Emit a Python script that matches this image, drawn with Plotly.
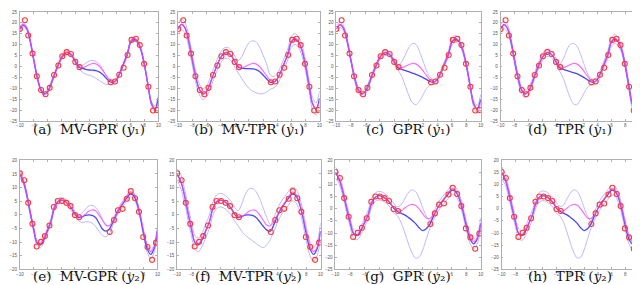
import plotly.graph_objects as go

# ---------------- data ----------------
X = [-10, -9.5, -9, -8.5, -8, -7.5, -7, -6.5, -6, -5.5, -5, -4.5, -4, -3.5, -3, -2.5, -2, -1.5, -1, -0.5,
     0, 0.5, 1, 1.5, 2, 2.5, 3, 3.5, 4, 4.5, 5, 5.5, 6, 6.5, 7, 7.5, 8, 8.5, 9, 9.5, 10]

# true function (magenta)
T1 = [17, 19.3, 17.5, 11.5, 3, -5, -10.5, -12.6, -11.5, -8, -3.5, 0.5, 4, 6.2, 6.5, 5, 2.5, 0.2, -0.5, 0,
      0.8, 1.4, 1.2, 0, -2, -4.2, -6.2, -7.2, -5.8, -2.5, 1.5, 5.5, 11.5, 13, 11.5, 7.5, 0.5, -8.5, -17, -19.5, -16]
T2 = [15, 12.5, 7.5, 1, -5, -10, -10.5, -8.5, -5.5, -2.5, 2.5, 4.8, 5.4, 5, 4, 2.6, 0.5, -0.6, -0.8, 0.2,
      1.3, 1.8, 1.5, 0, -2, -3.8, -4, -2.5, 0, 2.5, 4.5, 6.5, 8.3, 7.8, 5, 0, -6, -11, -13.5, -12, -6]

# observations
P1x = [-10, -9.28, -8.8, -8.18, -7.56, -6.94, -6.3, -5.7, -5.07, -4.45, -3.88, -3.25, -2.63, -2.0, -1.39,
       3.1, 3.73, 4.35, 4.98, 5.55, 6.12, 6.75, 7.32, 7.94, 8.56, 9.23, 9.8]
P1y = [17.2, 21.2, 14.2, 5.9, -4.5, -10.8, -12.7, -9.8, -3.9, 0.45, 4.7, 6.6, 5.7, 2.1, -0.3,
       -7.2, -6.9, -3.8, -0.6, 5.3, 12.2, 12.7, 9.8, 1.2, -9.3, -20.2, -19.9]
P2x = [-10, -9.38, -8.8, -8.18, -7.56, -6.94, -6.36, -5.7, -5.07, -4.5, -3.88, -3.25, -2.63, -2.0, -1.39,
       3.06, 3.68, 4.26, 4.93, 5.55, 6.12, 6.75, 7.32, 7.94, 8.56, 9.23, 9.8]
P2y = [15.2, 12.7, 4.4, -3.3, -11.6, -9.9, -7.8, -3.9, 2.9, 5.1, 5.1, 4.4, 3.2, -0.1, -0.9,
       -6.3, -1.9, 1.7, 2.2, 5.9, 8.7, 6.1, 1.1, -8.1, -11.8, -16.5, -10.2]

# (a) MV-GPR y1
M1a = [17.3, 19, 17.3, 11.5, 3, -5, -10.5, -12.6, -11.5, -8, -3.5, 0.5, 4, 6, 6.3, 5, 2.3, -0.2, -0.9, -1.3,
       -1.6, -1.7, -1.9, -2.6, -3.8, -5.5, -7.0, -7.2, -5.8, -2.5, 1.5, 5.5, 11.3, 12.6, 11.3, 7.5, 0.5, -8.5, -17, -19.5, -14.5]
U1a = [18.5, 19.8, 18.1, 12.3, 3.8, -4.2, -9.7, -11.8, -10.7, -7.2, -2.7, 1.3, 4.8, 6.8, 7.1, 5.8, 3.1, 0.5, 0.5, 1.5,
       2.5, 2.8, 2.3, 1, -1.5, -4.5, -6.3, -6.5, -5, -1.7, 2.3, 6.3, 12.1, 13.4, 12.1, 8.3, 1.3, -7.7, -16, -18.3, -13]
L1a = [16.1, 18.2, 16.5, 10.7, 2.2, -5.8, -11.3, -13.4, -12.3, -8.8, -4.3, -0.3, 3.2, 5.2, 5.5, 4.2, 1.5, -1, -2.5, -3.5,
       -4, -4.5, -5.5, -6.5, -7.5, -8.3, -8.2, -8, -6.6, -3.3, 0.7, 4.7, 10.5, 11.8, 10.5, 6.7, -0.3, -9.3, -18, -20.7, -16]
# (b) MV-TPR y1
M1b = [17.3, 19.3, 17.5, 11.5, 3, -5, -10.5, -12.6, -11.5, -8, -3.5, 0.5, 4, 6, 6.3, 5, 2.3, -0.3, -0.8, -1,
       -1, -1.1, -1.4, -2.3, -3.9, -5.6, -7.2, -7.2, -5.8, -2.5, 1.5, 5.5, 11.3, 12.6, 11.3, 7.5, 0.5, -8.5, -17, -19.5, -14.5]
U1b = [19.8, 21.8, 20, 14, 5.5, -2.5, -8, -10.1, -9, -5.5, -1, 3, 6.5, 8.5, 8.8, 7.5, 4.8, 2.8, 4.5, 8,
       10.8, 11.8, 11.3, 9, 5.2, 1.3, -3.8, -4.6, -3.2, 0, 4, 8, 13.8, 15.1, 13.8, 10, 3, -6, -14.2, -16.7, -11]
L1b = [14.8, 16.8, 15, 9, 0.5, -7.5, -13, -15.1, -14, -10.5, -6, -2, 1.5, 3.5, 3.8, 2.5, -0.2, -3, -5.5, -8,
       -10, -11.2, -12, -12.5, -12.4, -11.8, -10.5, -9.8, -8.4, -5, -1, 3, 8.8, 10.1, 8.8, 5, -2, -11, -19.8, -22.3, -18]
# (c) GPR y1
M1c = [17.3, 19.2, 17.4, 11.5, 3, -5, -10.5, -12.6, -11.5, -8, -3.5, 0.5, 4, 6, 6.3, 5, 2.2, -0.5, -1.2, -1.8,
       -2.4, -3, -3.6, -4.3, -5.1, -6, -7, -7.2, -5.8, -2.5, 1.5, 5.5, 11.3, 12.6, 11.3, 7.5, 0.5, -8.5, -17, -19.5, -15]
U1c = [18.8, 20.4, 18.6, 12.6, 4.1, -3.9, -9.3, -11.4, -10.3, -6.9, -2.5, 1.5, 5, 7.2, 7.5, 6, 3.2, 0.5, 2, 5,
       8.5, 10.5, 10.2, 7, 2.5, -2, -5, -6, -4.8, -1.5, 2.6, 6.8, 12.8, 14.2, 12.7, 8.7, 1.6, -7.3, -15.6, -17.8, -12.8]
L1c = [15.8, 18, 16.2, 10.4, 1.9, -6.1, -11.7, -13.8, -12.7, -9.1, -4.5, -0.5, 3, 4.8, 5.1, 4, 1.2, -1.5, -4.2, -8.5,
       -13, -16.5, -17.5, -16, -13, -10, -8.5, -8.3, -6.8, -3.5, 0.4, 4.2, 9.8, 11.0, 9.9, 6.3, -0.6, -9.7, -18.4, -21.2, -17.2]
# (d) TPR y1
M1d = [17.3, 19.2, 17.4, 11.5, 3, -5, -10.5, -12.6, -11.5, -8, -3.5, 0.5, 4, 6, 6.3, 5, 2.2, -0.5, -1.2, -1.8,
       -2.3, -2.8, -3.3, -4.1, -5, -6, -7, -7.2, -5.8, -2.5, 1.5, 5.5, 11.3, 12.6, 11.3, 7.5, 0.5, -8.5, -17, -19.5, -15]
U1d = [19.3, 20.9, 19.1, 13.1, 4.6, -3.4, -8.8, -10.9, -9.8, -6.4, -2, 2, 5.5, 7.7, 8, 6.5, 3.7, 1, 3, 7,
       10, 10.6, 9.5, 6, 1.5, -2.8, -5.3, -5.8, -4.3, -1, 3.1, 7.3, 13.3, 14.6, 13.1, 9.1, 2, -6.8, -15, -17.2, -12]
L1d = [15.3, 17.5, 15.7, 9.9, 1.4, -6.6, -12.2, -14.3, -13.2, -9.6, -5, -1, 2.5, 4.3, 4.6, 3.5, 0.7, -2, -5, -9.5,
       -14, -17, -17.5, -15.5, -12.5, -9.8, -8.6, -8.5, -7.3, -4, -0.1, 3.7, 9.3, 10.6, 9.5, 5.9, -1, -10.2, -19, -21.8, -18]
# (e) MV-GPR y2
M2e = [14.8, 12.3, 7.3, 0.8, -5.3, -10.3, -11, -9, -5.8, -2.5, 2.5, 4.8, 5.4, 5, 4, 2.5, 0.3, -1, -0.8, -0.2,
       0, -0.2, -1, -3, -5.2, -6, -5.3, -2.8, 0, 2.4, 4.2, 6, 7.6, 7.2, 4.5, -0.5, -7, -12.3, -14.5, -12.5, -6]
U2e = [15.8, 13.3, 8.3, 1.8, -4.3, -9.3, -10, -8, -4.8, -1.5, 3.5, 5.8, 6.4, 6, 5, 3.5, 1.3, 0, 0.5, 2,
       3.2, 3.5, 2.8, 1, -1.5, -3.5, -4, -1.8, 1, 3.4, 5.2, 7, 8.6, 8.2, 5.5, 0.5, -6, -11.3, -13.2, -11, -4.5]
L2e = [13.8, 11.3, 6.3, -0.2, -6.3, -11.3, -12, -10, -6.8, -3.5, 1.5, 3.8, 4.4, 4, 3, 1.5, -0.7, -2, -2.8, -2.6,
       -2.6, -3, -4.2, -6, -7.5, -8, -7, -4, -1, 1.4, 3.2, 5, 6.6, 6.2, 3.5, -1.5, -8, -13.5, -16, -14, -7.5]
# (f) MV-TPR y2
M2f = [14.8, 12.3, 7.3, 0.8, -5.3, -10.3, -11, -9, -5.8, -2.5, 2.5, 4.8, 5.4, 5, 4, 2.5, 0.3, -1, -0.6, -0.1,
       0, -0.2, -1, -2.5, -4.2, -5.6, -6, -3.5, -0.3, 2.4, 4.2, 6, 7.6, 7.2, 4.5, -0.5, -7, -12.3, -14.5, -12.5, -6]
U2f = [16.8, 14.8, 9.8, 3.3, -2.8, -7.8, -8.5, -6.5, -3.3, 0, 5, 7.3, 7.9, 7.5, 6.5, 5, 2.8, 1.5, 4, 7.5,
       9.5, 9.7, 8.5, 6, 2.5, -1, -3.5, -1, 2.2, 4.9, 6.7, 8.5, 10.1, 9.7, 7, 2, -4.5, -9.8, -12, -10, -3]
L2f = [12.8, 9.8, 4.8, -1.7, -7.8, -12.8, -13.5, -11.5, -8.3, -5, 0, 2.3, 2.9, 2.5, 1.5, 0, -2.2, -4, -6, -7.5,
       -8.5, -9.5, -10.5, -11.5, -12, -11, -9, -6, -2.8, -0.1, 1.7, 3.5, 5.1, 4.7, 2, -3, -9.5, -14.8, -17, -15, -9]
# (g) GPR y2
M2g = [15, 12.3, 7.3, 0.8, -5.3, -10.3, -11, -9, -5.8, -2.5, 2.5, 4.8, 5.4, 5, 4, 2.5, 0.3, -1, -1.8, -2.5,
       -3.5, -4.6, -6, -7.8, -9, -8.2, -6.3, -3, 0, 2.4, 4.2, 6, 7.6, 7.2, 4.5, -0.5, -7, -12.3, -14.5, -12.5, -6]
U2g = [17.3, 14.3, 9.1, 2.6, -3.5, -8.5, -9.2, -7.2, -4, -0.7, 4.3, 6.6, 7.2, 6.8, 5.8, 4.3, 2.3, 0.8, 1.5, 4,
       6.5, 7.8, 7.2, 4.5, 0.5, -3, -5, -1.5, 1.8, 4.2, 6, 7.8, 9.4, 9, 6.3, 1.3, -5.2, -10.5, -12.5, -10.5, -3.8]
L2g = [12.7, 10.3, 5.5, -1, -7.1, -12.1, -12.8, -10.8, -7.6, -4.3, 0.7, 3, 3.6, 3.2, 2.2, 0.7, -1.7, -2.8, -5.5, -9.5,
       -14, -18, -20.3, -20, -17, -12.5, -8, -4.5, -1.8, 0.6, 2.4, 4.2, 5.8, 5.4, 2.7, -2.3, -8.8, -14.1, -16.5, -14.5, -8.2]
# (h) TPR y2
M2h = [15, 12.3, 7.3, 0.8, -5.3, -10.3, -11, -9, -5.8, -2.5, 2.5, 4.8, 5.4, 5, 4, 2.5, 0.3, -1, -1.8, -2.5,
       -3.5, -4.6, -6, -7.8, -9, -8.2, -6.3, -3, 0, 2.4, 4.2, 6, 7.6, 7.2, 4.5, -0.5, -7, -12.3, -14.5, -12.5, -6]
U2h = [17.5, 14.5, 9.3, 2.8, -3.3, -8.3, -9, -7, -3.8, -0.5, 4.5, 6.8, 7.4, 7, 6, 4.5, 2.5, 1, 1.5, 4,
       6.5, 7.8, 7.2, 4.5, 0.5, -3, -5, -1.3, 2, 4.4, 6.2, 8, 9.6, 9.2, 6.5, 1.5, -5, -10.3, -12.3, -10.3, -3.6]
L2h = [12.5, 10.1, 5.3, -1.2, -7.3, -12.3, -13, -11, -7.8, -4.5, 0.5, 2.8, 3.4, 3, 2, 0.5, -1.9, -3, -5.5, -9.5,
       -14, -18, -20.3, -20, -17, -12.5, -8, -4.7, -2, 0.4, 2.2, 4, 5.6, 5.2, 2.5, -2.5, -9, -14.3, -16.7, -14.7, -8.4]

LABELS = ["(a)&nbsp;&nbsp;MV-GPR (<i>y</i>₁)", "(b)&nbsp;&nbsp;MV-TPR (<i>y</i>₁)",
          "(c)&nbsp;&nbsp;GPR (<i>y</i>₁)", "(d)&nbsp;&nbsp;TPR (<i>y</i>₁)",
          "(e)&nbsp;&nbsp;MV-GPR (<i>y</i>₂)", "(f)&nbsp;&nbsp;MV-TPR (<i>y</i>₂)",
          "(g)&nbsp;&nbsp;GPR (<i>y</i>₂)", "(h)&nbsp;&nbsp;TPR (<i>y</i>₂)"]
XTICKS = [-10, -8, -6, -4, -2, 0, 2, 4, 6, 8, 10]

# ---------------- layout geometry (pixels) ----------------
W, H = 640, 285
panels = [
    (M1a, U1a, L1a, T1, P1x, P1y, [-25, 25], (8, 148), (2, 113)),
    (M1b, U1b, L1b, T1, P1x, P1y, [-25, 25], (168, 311), (2, 113)),
    (M1c, U1c, L1c, T1, P1x, P1y, [-25, 25], (328, 474), (2, 113)),
    (M1d, U1d, L1d, T1, P1x, P1y, [-25, 25], (494, 634), (2, 113)),
    (M2e, U2e, L2e, T2, P2x, P2y, [-20, 20], (8, 147), (153, 264)),
    (M2f, U2f, L2f, T2, P2x, P2y, [-20, 20], (167, 312), (153, 264)),
    (M2g, U2g, L2g, T2, P2x, P2y, [-25, 20], (327, 474), (153, 264)),
    (M2h, U2h, L2h, T2, P2x, P2y, [-25, 20], (495, 634), (153, 264)),
]
cap_mid = [121, 121, 121, 121, 271, 271, 271, 271]

fig = go.Figure()
annotations = []
for i, (M, U, L, T, px, py, yr, (x0, x1), (y0, y1)) in enumerate(panels):
    k = "" if i == 0 else str(i + 1)
    xa, ya = "x" + k, "y" + k
    for band in (U, L):
        fig.add_trace(go.Scatter(x=X, y=band, mode="lines", xaxis=xa, yaxis=ya,
                                 line=dict(color="#b9b9ff", width=1, shape="spline", smoothing=0.9),
                                 showlegend=False, hoverinfo="skip"))
    fig.add_trace(go.Scatter(x=X, y=M, mode="lines", xaxis=xa, yaxis=ya,
                             line=dict(color="#4b46ff", width=1.3, shape="spline", smoothing=0.9),
                             showlegend=False))
    fig.add_trace(go.Scatter(x=X, y=T, mode="lines", xaxis=xa, yaxis=ya, opacity=0.8,
                             line=dict(color="#ff44ff", width=1.1, shape="spline", smoothing=0.9),
                             showlegend=False))
    fig.add_trace(go.Scatter(x=px, y=py, mode="markers", xaxis=xa, yaxis=ya,
                             marker=dict(symbol="circle-open", size=5, color="#ff3838",
                                         line=dict(width=1.1, color="#ff3838")),
                             showlegend=False))
    axcommon = dict(showline=True, mirror="ticks", linecolor="#b0b0b0", linewidth=0.8,
                    ticks="inside", ticklen=2, tickcolor="#b0b0b0", showgrid=False, zeroline=False,
                    tickfont=dict(size=4.5, color="#555555", family="Liberation Sans"))
    fig.update_layout(**{
        ("xaxis" + k): dict(domain=[x0 / W, x1 / W], range=[-10, 10], tickvals=XTICKS,
                            anchor=ya, **axcommon),
        ("yaxis" + k): dict(domain=[1 - y1 / H, 1 - y0 / H], range=yr, dtick=5,
                            anchor=xa, ticklabelstandoff=1, **axcommon),
    })
    annotations.append(dict(text=LABELS[i], x=(x0 + x1) / 2 / W, y=1 - cap_mid[i] / H,
                            xref="paper", yref="paper", showarrow=False, xanchor="center", yanchor="middle",
                            borderpad=0,
                            font=dict(family="DejaVu Serif", size=13.5, color="#111111")))

fig.update_layout(width=W, height=H, margin=dict(l=0, r=0, t=0, b=0),
                  paper_bgcolor="white", plot_bgcolor="white", annotations=annotations)
fig.write_html("out.html")
